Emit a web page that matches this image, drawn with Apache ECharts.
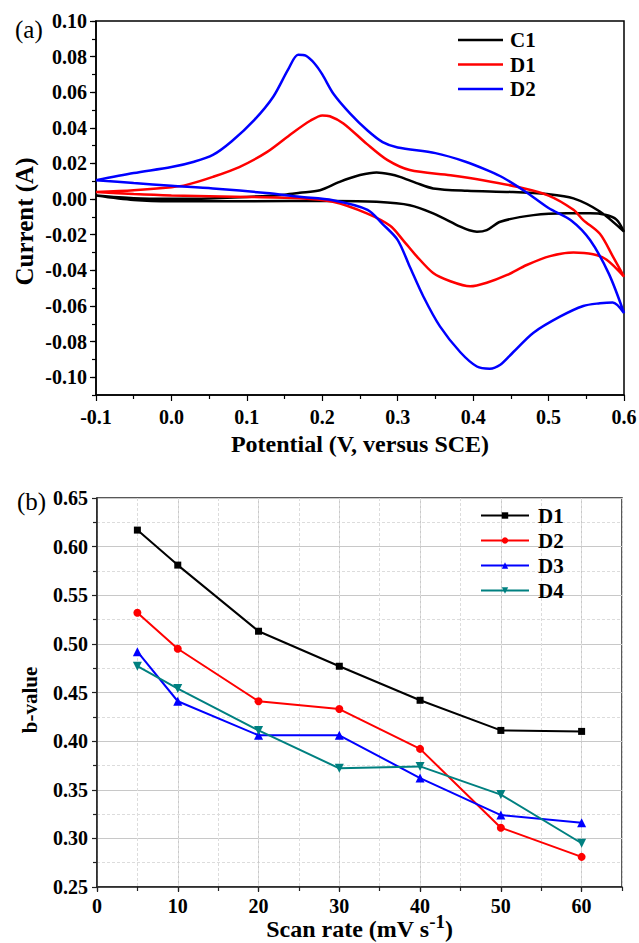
<!DOCTYPE html>
<html lang="en">
<head>
    <meta charset="UTF-8">
    <title>CV curves and b-values</title>
    <script src="https://cdn.jsdelivr.net/npm/echarts@6.0.0/dist/echarts.min.js"></script>
    <style>
        body { margin: 0; background: #fff; }
        #chart_a { position: absolute; left: 0; top: 0; width: 639px; height: 470px; }
        #chart_b { position: absolute; left: 0; top: 470px; width: 639px; height: 473px; }
    </style>
</head>
<body>
<div id="chart_a"></div>
<div id="chart_b"></div>

<script>
    // ---- panel (a): cyclic voltammetry loops, [potential V, current A]
    // anodic sweep -0.1 -> 0.6, then cathodic back to -0.1
    let c1Loop = [
        [-0.10, 0.0020], [-0.05, 0.0005], [0.00, 0.0002], [0.05, 0.0004], [0.10, 0.0012],
        [0.15, 0.0025], [0.17, 0.0035], [0.197, 0.0050], [0.223, 0.0097], [0.25, 0.0135],
        [0.272, 0.0150], [0.29, 0.0140], [0.303, 0.0125], [0.325, 0.0090], [0.347, 0.0060],
        [0.392, 0.0047], [0.45, 0.0040], [0.498, 0.0028], [0.533, 0.0004], [0.568, -0.0070],
        [0.60, -0.0183],
        [0.59, -0.0115], [0.575, -0.0088], [0.555, -0.0080], [0.524, -0.0080], [0.48, -0.0090],
        [0.436, -0.0127], [0.418, -0.0174], [0.405, -0.0183], [0.395, -0.0175], [0.383, -0.0155],
        [0.347, -0.0080], [0.316, -0.0034], [0.272, -0.0015], [0.214, -0.0010], [0.10, -0.0012],
        [0.00, -0.0012], [-0.05, -0.0005], [-0.10, 0.0020]
    ];
    let d1Loop = [
        [-0.10, 0.0040], [-0.05, 0.0050], [0.00, 0.0067], [0.02, 0.0080], [0.055, 0.0125],
        [0.09, 0.0180], [0.127, 0.0265], [0.16, 0.0370], [0.184, 0.0440], [0.20, 0.0470],
        [0.21, 0.0465], [0.228, 0.0425], [0.259, 0.0310], [0.286, 0.0220], [0.316, 0.0163],
        [0.37, 0.0134], [0.413, 0.0106], [0.458, 0.0069], [0.50, 0.0020], [0.533, -0.0060],
        [0.546, -0.0118], [0.568, -0.0195], [0.585, -0.0320], [0.60, -0.0435],
        [0.577, -0.0340], [0.559, -0.0310], [0.533, -0.0300], [0.502, -0.0320], [0.471, -0.0370],
        [0.445, -0.0426], [0.418, -0.0470], [0.396, -0.0490], [0.369, -0.0460], [0.347, -0.0415],
        [0.325, -0.0320], [0.307, -0.0230], [0.29, -0.0150], [0.259, -0.0080], [0.214, -0.0015],
        [0.17, 0.0005], [0.10, 0.0012], [0.00, 0.0020], [-0.05, 0.0028], [-0.10, 0.0040]
    ];
    let d2Loop = [
        [-0.10, 0.0106], [-0.05, 0.0146], [0.00, 0.0180], [0.03, 0.0210], [0.055, 0.0248],
        [0.08, 0.0325], [0.11, 0.0445], [0.135, 0.0575], [0.155, 0.0730], [0.168, 0.0810],
        [0.178, 0.0805], [0.19, 0.0760], [0.20, 0.0700], [0.215, 0.0590], [0.237, 0.0480],
        [0.26, 0.0385], [0.28, 0.0320], [0.30, 0.0290], [0.35, 0.0258], [0.39, 0.0210],
        [0.42, 0.0160], [0.44, 0.0120], [0.47, 0.0040], [0.50, -0.0050], [0.53, -0.0120],
        [0.555, -0.0230], [0.58, -0.0420], [0.60, -0.0640],
        [0.585, -0.0580], [0.568, -0.0585], [0.546, -0.0600], [0.515, -0.0660], [0.48, -0.0750],
        [0.453, -0.0860], [0.436, -0.0930], [0.422, -0.0952], [0.405, -0.0940], [0.383, -0.0860],
        [0.356, -0.0715], [0.334, -0.0547], [0.316, -0.0380], [0.30, -0.0230], [0.28, -0.0140],
        [0.26, -0.0060], [0.214, -0.0006], [0.17, 0.0013], [0.126, 0.0034], [0.055, 0.0060],
        [0.00, 0.0075], [-0.05, 0.0090], [-0.10, 0.0106]
    ];
    let currentTicks = [-0.10, -0.08, -0.06, -0.04, -0.02, 0.00, 0.02, 0.04, 0.06, 0.08, 0.10];

    // ---- panel (b): b-value vs scan rate
    let scanRates = [5, 10, 20, 30, 40, 50, 60];
    let bD1 = [0.617, 0.581, 0.513, 0.477, 0.442, 0.411, 0.410];
    let bD2 = [0.532, 0.495, 0.441, 0.433, 0.392, 0.311, 0.281];
    let bD3 = [0.492, 0.441, 0.406, 0.406, 0.362, 0.324, 0.316];
    let bD4 = [0.477, 0.454, 0.411, 0.372, 0.374, 0.345, 0.295];

    let serif = "'Liberation Serif', 'Times New Roman', serif";
    let tickFont = {fontFamily: serif, fontWeight: 'bold', fontSize: 20, color: '#000'};
    function bold(size) {
        return {fontFamily: serif, fontWeight: 'bold', fontSize: size, color: '#000'};
    }

    function pairs(xs, ys) {
        let out = [];
        for (let i = 0; i < xs.length; i++) { out.push([xs[i], ys[i]]); }
        return out;
    }

    function cvSeries(name, data, color) {
        return {name: name, type: 'line', data: data, smooth: 0.3, symbol: 'none',
            lineStyle: {color: color, width: 2.5}, itemStyle: {color: color}};
    }

    function bSeries(name, ys, color, symbol, size, rotate) {
        return {name: name, type: 'line', data: pairs(scanRates, ys), symbol: symbol,
            symbolSize: size, symbolRotate: rotate || 0,
            lineStyle: {color: color, width: 2}, itemStyle: {color: color}};
    }

    ///////////// panel (a)
    let chartA = echarts.init(document.getElementById('chart_a'), null, {renderer: 'svg'});
    chartA.setOption({
        animation: false,
        title: {text: '(a)', left: 10, top: 12,
            textStyle: {fontFamily: serif, fontWeight: 'normal', fontSize: 25, color: '#000'}},
        grid: {left: 96, top: 21, right: 15, height: 374, show: true, outerBoundsMode: 'none',
            borderColor: '#000', borderWidth: 1.5, backgroundColor: 'transparent'},
        legend: {orient: 'vertical', left: 458, top: 29.5, padding: 0,
            itemWidth: 45, itemHeight: 2.5, itemGap: 3.5,
            textStyle: Object.assign({lineHeight: 21, padding: [0, 0, 0, 2]}, bold(21)),
            data: [{name: 'C1', icon: 'rect'}, {name: 'D1', icon: 'rect'}, {name: 'D2', icon: 'rect'}]},
        xAxis: {type: 'value', min: -0.1, max: 0.6, interval: 0.1,
            axisLine: {onZero: false, lineStyle: {color: '#000', width: 1.5}},
            axisTick: {inside: false, length: 6, lineStyle: {color: '#000', width: 1.2}},
            minorTick: {show: true, splitNumber: 2, length: 4, lineStyle: {color: '#000', width: 1.2}},
            splitLine: {show: false},
            axisLabel: Object.assign({margin: 12, formatter: function (v) { return v.toFixed(1); }}, tickFont),
            name: 'Potential (V, versus SCE)', nameLocation: 'middle', nameGap: 36,
            nameTextStyle: bold(24)},
        yAxis: [
            {type: 'value', min: -0.11, max: 0.10, interval: 0.01,
                axisLine: {onZero: false, lineStyle: {color: '#000', width: 1.5}},
                axisTick: {length: 4, lineStyle: {color: '#000', width: 1.2}},
                splitLine: {show: false},
                axisLabel: Object.assign({margin: 9, formatter: function (v) {
                    let k = Math.round(v * 100);
                    return (k % 2 === 0) ? (k / 100).toFixed(2) : '';
                }}, tickFont),
                name: 'Current (A)', nameLocation: 'middle', nameRotate: 90, nameGap: 59,
                nameMoveOverlap: false,
                nameTextStyle: Object.assign({padding: [0, 27, 0, 0]}, bold(25))},
            {type: 'value', min: -0.11, max: 0.10, interval: 0.01, position: 'left',
                axisLine: {show: false, onZero: false},
                axisTick: {length: 6, customValues: currentTicks, lineStyle: {color: '#000', width: 1.2}},
                axisLabel: {show: false}, splitLine: {show: false}}
        ],
        series: [
            cvSeries('C1', c1Loop, '#000000'),
            cvSeries('D1', d1Loop, '#ff0000'),
            cvSeries('D2', d2Loop, '#0000ff')
        ]
    });

    ///////////// panel (b)
    let chartB = echarts.init(document.getElementById('chart_b'), null, {renderer: 'svg'});
    chartB.setOption({
        animation: false,
        title: {text: '(b)', left: 12, top: 14,
            textStyle: {fontFamily: serif, fontWeight: 'normal', fontSize: 25, color: '#000'}},
        grid: {left: 97, top: 28, right: 17, bottom: 56, show: true, outerBoundsMode: 'none',
            borderColor: '#222', borderWidth: 1.5, backgroundColor: 'transparent'},
        legend: {orient: 'vertical', left: 480, top: 35, padding: 0,
            itemWidth: 48, itemHeight: 8, itemGap: 4,
            textStyle: Object.assign({lineHeight: 21, padding: [0, 0, 0, 4]}, bold(21)),
            data: ['D1', 'D2', 'D3', 'D4']},
        xAxis: [
            {type: 'value', min: 0, max: 65, interval: 10, position: 'bottom',
                axisLine: {onZero: false, lineStyle: {color: '#222', width: 1.5}},
                axisTick: {length: 5, lineStyle: {color: '#222', width: 1.2}},
                splitLine: {show: true, lineStyle: {color: '#c8c8c8', width: 1}},
                axisLabel: Object.assign({margin: 10, lineHeight: 18, showMaxLabel: false}, tickFont),
                name: '{t|Scan rate (mV s}{s|-1}{t|)}', nameLocation: 'middle', nameGap: 30,
                nameMoveOverlap: false,
                nameTextStyle: {rich: {
                    t: Object.assign({lineHeight: 24, verticalAlign: 'bottom'}, bold(24)),
                    s: Object.assign({lineHeight: 19, verticalAlign: 'bottom', padding: [0, 0, 10, 0]}, bold(19))
                }}},
            {type: 'value', min: 0, max: 65, interval: 5, position: 'bottom',
                axisLine: {show: false, onZero: false},
                axisTick: {length: 4, lineStyle: {color: '#222', width: 1.2}},
                axisLabel: {show: false},
                splitLine: {show: true, lineStyle: {color: '#dcdcdc', width: 1, type: [3, 2]}}}
        ],
        yAxis: {type: 'value', min: 0.25, max: 0.65, interval: 0.05,
            axisLine: {onZero: false, lineStyle: {color: '#222', width: 1.5}},
            axisTick: {length: 5, lineStyle: {color: '#222', width: 1.2}},
            minorTick: {show: true, splitNumber: 2, length: 4, lineStyle: {color: '#222', width: 1.2}},
            splitLine: {show: true, lineStyle: {color: '#c8c8c8', width: 1}},
            minorSplitLine: {show: true, lineStyle: {color: '#dcdcdc', width: 1, type: [3, 2]}},
            axisLabel: Object.assign({margin: 9, formatter: function (v) { return v.toFixed(2); }}, tickFont),
            name: 'b-value', nameLocation: 'middle', nameRotate: 90, nameGap: 57,
            nameTextStyle: Object.assign({padding: [0, 15, 0, 0]}, bold(21))},
        series: [
            bSeries('D1', bD1, '#000000', 'rect', 7),
            bSeries('D2', bD2, '#ff0000', 'circle', 8),
            bSeries('D3', bD3, '#0000ff', 'triangle', 9),
            bSeries('D4', bD4, '#008080', 'triangle', 9, 180)
        ]
    });
</script>
</body>
</html>
